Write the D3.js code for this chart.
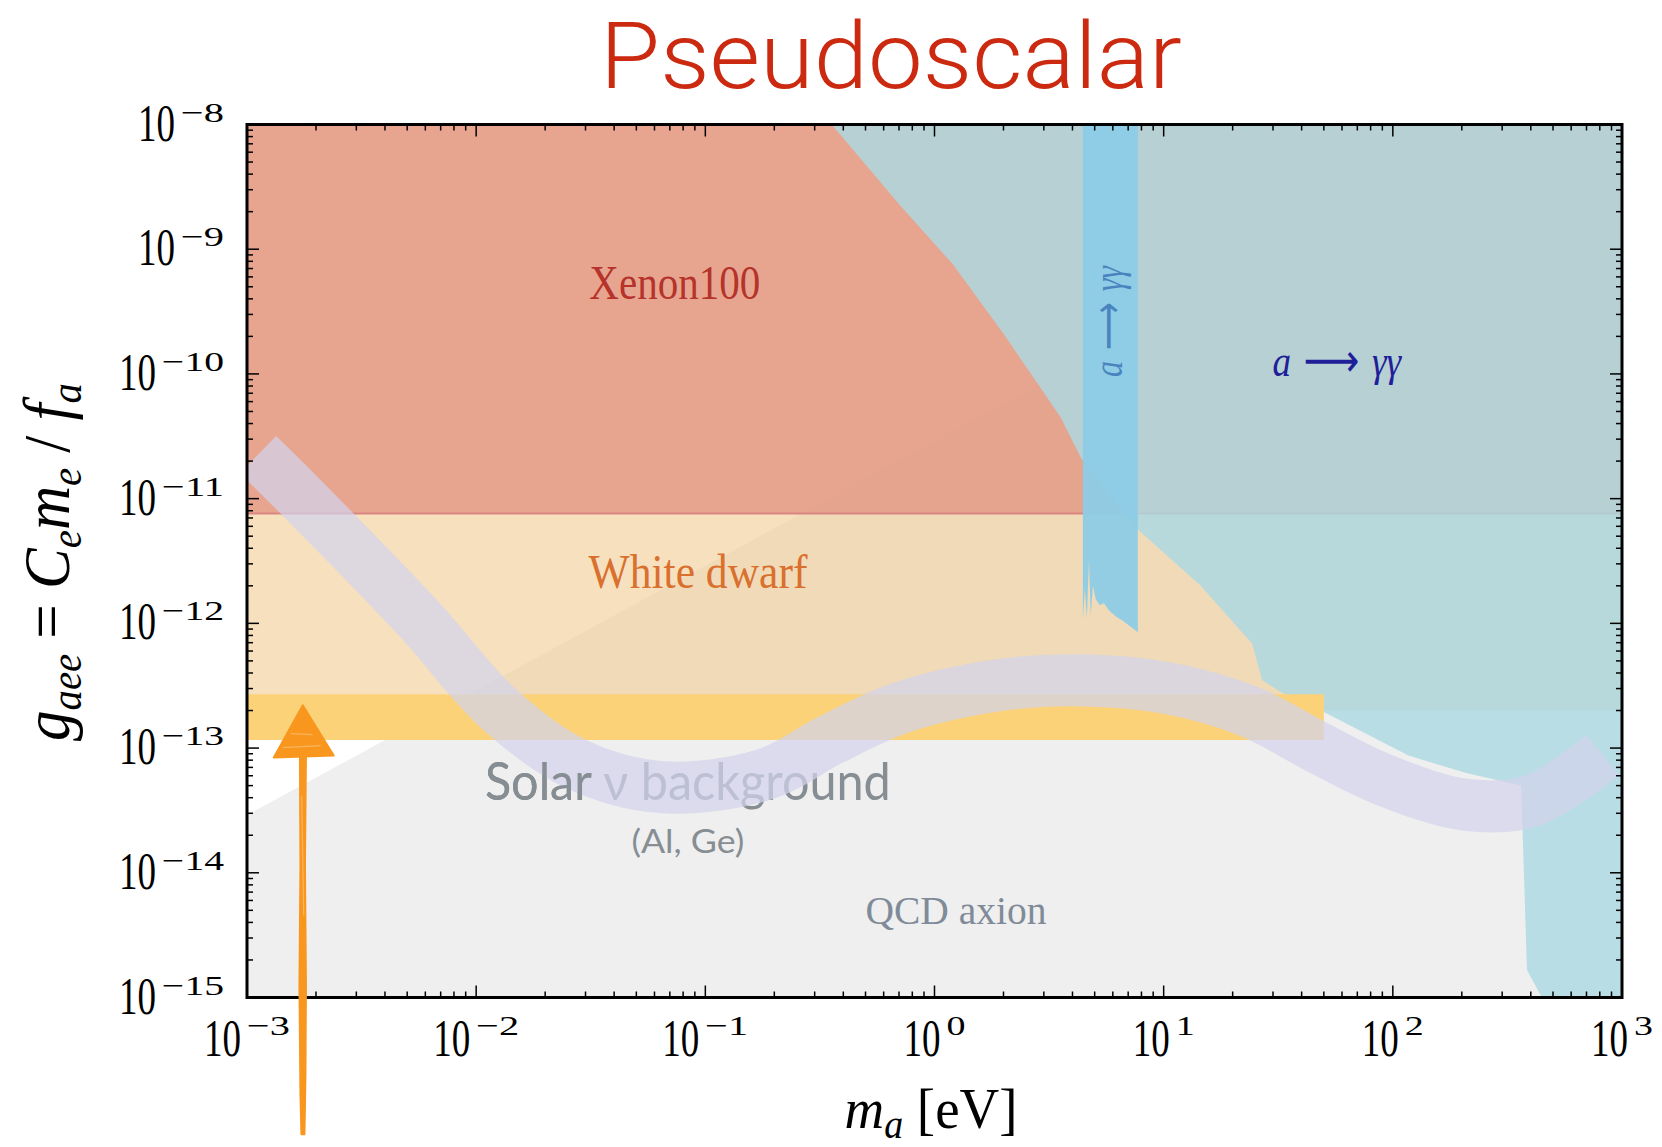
<!DOCTYPE html>
<html>
<head>
<meta charset="utf-8">
<script src="https://cdn.jsdelivr.net/npm/d3@7"></script>
<style>
  body { margin: 0; background: #fff; }
</style>
</head>
<body>
<svg id="chart"></svg>
<script>
// --- DATA ---
const massTicks = [1e-3, 1e-2, 1e-1, 1e0, 1e1, 1e2, 1e3];
const massTickExp = ["−3", "−2", "−1", "0", "1", "2", "3"];
const couplingTicks = [1e-8, 1e-9, 1e-10, 1e-11, 1e-12, 1e-13, 1e-14, 1e-15];
const couplingTickExp = ["−8", "−9", "−10", "−11", "−12", "−13", "−14", "−15"];

// Xenon100 limit (excluded above)
const xenonM = [1e-3, 1e3];
const xenonG = [7.6e-12, 7.6e-12];

// White dwarf cooling limit (excluded above)
const whiteDwarfM = [1e-3, 1e3];
const whiteDwarfG = [2.0e-13, 2.0e-13];

// white dwarf hint band
const hintM = [1e-3, 50];
const hintLowG = [1.16e-13, 1.16e-13];
const hintHighG = [2.7e-13, 2.7e-13];

// QCD axion band (below the line)
const qcdM = [1e-3, 347, 1e3];
const qcdG = [2.9e-14, 1e-8, 1e-8];

// a -> gamma gamma exclusion boundary
const photonM = [0.356, 0.708, 1.20, 2.0, 3.55, 4.37, 7.76, 14.5, 24.3, 26.9, 33.1, 51.3, 117, 209, 363, 385, 447];
const photonG = [1e-8, 2.24e-9, 7.6e-10, 2.1e-10, 4.5e-11, 2.1e-11, 5.6e-12, 2.0e-12, 6.9e-13, 3.5e-13, 2.75e-13, 1.9e-13, 8.7e-14, 6.3e-14, 5.0e-14, 1.66e-15, 1e-15];

// a -> gamma gamma vertical strip, lower edge
const stripM = [4.44, 4.53, 4.62, 4.72, 4.81, 4.91, 5.06, 5.27, 5.48, 5.82, 6.25, 6.64, 7.13, 7.48, 7.71];
const stripG = [1.07e-12, 1.9e-12, 1.1e-12, 3.2e-12, 1.15e-12, 2.0e-12, 1.55e-12, 1.4e-12, 1.45e-12, 1.25e-12, 1.12e-12, 1.05e-12, 9.5e-13, 8.9e-13, 8.5e-13];

// solar neutrino background band, centre line
const solarM = [1.117e-3, 1.70e-3, 5.69e-3, 1.245e-2, 2.67e-2, 6.47e-2, 0.184, 0.350, 0.706, 1.93, 4.10, 10.3, 23.8, 46.6, 90.4, 210, 408, 824];
const solarG = [2.25e-11, 1.05e-11, 1.06e-12, 2.09e-13, 7.6e-14, 4.86e-14, 6.2e-14, 1.16e-13, 2.09e-13, 3.2e-13, 3.5e-13, 3.03e-13, 1.95e-13, 1.02e-13, 5.6e-14, 3.5e-14, 3.8e-14, 8.8e-14];

// --- SETUP ---
const width = 1662, height = 1147;
const plot = { left: 247, right: 1622, top: 124.5, bottom: 997.5 };

const svg = d3.select("#chart")
    .attr("width", width)
    .attr("height", height)
    .style("display", "block");

svg.append("rect").attr("width", width).attr("height", height).attr("fill", "#fff");

const x = d3.scaleLog().domain([1e-3, 1e3]).range([plot.left, plot.right]);
const y = d3.scaleLog().domain([1e-15, 1e-8]).range([plot.bottom, plot.top]);

const defs = svg.append("defs");
defs.append("clipPath").attr("id", "plot-clip")
    .append("rect")
    .attr("x", plot.left).attr("y", plot.top)
    .attr("width", plot.right - plot.left).attr("height", plot.bottom - plot.top);
// left part of the solar label ("Solar"), which stays above the band
defs.append("clipPath").attr("id", "solar-clip")
    .append("rect")
    .attr("x", plot.left).attr("y", plot.top)
    .attr("width", x(0.032) - plot.left).attr("height", plot.bottom - plot.top);

const layer = svg.append("g").attr("clip-path", "url(#plot-clip)");

const serif = "'Liberation Serif', 'DejaVu Serif', serif";
const sans = "Lato, 'Open Sans', 'Noto Sans', sans-serif";

// fills up to the top of the axes / down to the bottom
const areaUp = d3.area().x(d => x(d[0])).y0(d => y(d[1])).y1(y(1e-8));
const areaDown = d3.area().x(d => x(d[0])).y0(d => y(d[1])).y1(y(1e-15));
const line = d3.line().x(d => x(d[0])).y(d => y(d[1]));

// --- REGIONS ---
// QCD axion
layer.append("path")
    .attr("d", areaDown(d3.zip(qcdM, qcdG)))
    .attr("fill", "#efefef");

// White dwarf
layer.append("path")
    .attr("d", areaUp(d3.zip(whiteDwarfM, whiteDwarfG)))
    .attr("fill", "rgb(242,203,147)")
    .attr("fill-opacity", 0.6);

// Xenon100
layer.append("path")
    .attr("d", areaUp(d3.zip(xenonM, xenonG)))
    .attr("fill", "rgb(226,150,131)")
    .attr("fill-opacity", 0.8);
layer.append("path")
    .attr("d", line(d3.zip(xenonM, xenonG)))
    .attr("fill", "none")
    .attr("stroke", "#d98582")
    .attr("stroke-width", 2);

// a -> gamma gamma (big region)
const photonPts = d3.zip(photonM, photonG).concat([[1e3, 1e-15], [1e3, 1e-8]]);
layer.append("path")
    .attr("d", line(photonPts) + "Z")
    .attr("fill", "rgb(172,216,226)")
    .attr("fill-opacity", 0.83);

// a -> gamma gamma (vertical strip)
const stripPts = [[stripM[0], 1e-8]].concat(d3.zip(stripM, stripG), [[stripM[stripM.length - 1], 1e-8]]);
layer.append("path")
    .attr("d", line(stripPts) + "Z")
    .attr("fill", "rgb(140,204,230)")
    .attr("fill-opacity", 0.95);

// hint band
layer.append("path")
    .attr("d", d3.area().x(d => x(d[0])).y0(d => y(d[1])).y1(d => y(d[2]))(d3.zip(hintM, hintLowG, hintHighG)))
    .attr("fill", "#fbd278");

// --- TEXT HELPER ---
function label(parent, px, py, opts, build) {
    const g = parent.append("g")
        .attr("transform", `translate(${px},${py})` + (opts.rotate ? ` rotate(${opts.rotate})` : ""));
    const t = g.append("text")
        .attr("text-anchor", opts.anchor || "middle")
        .attr("font-family", opts.family || serif)
        .attr("font-size", opts.size)
        .attr("font-weight", opts.weight || "normal")
        .attr("font-style", opts.italic ? "italic" : "normal")
        .attr("fill", opts.color || "#000");
    if (typeof build === "string") t.text(build); else build(t);
    if (opts.width) {
        const w = t.node().getBBox().width;
        if (w > 0) t.attr("transform", `scale(${opts.width / w},1)`);
    }
    return g;
}

// Solar background text sits under the band
const solarOpts = { family: sans, size: 52, color: "#868e93", width: 406 };
label(layer, x(0.0839), y(3.83e-14), solarOpts, "Solar ν background");
label(layer, x(0.0839), y(1.44e-14), { family: sans, size: 32, color: "#868e93", width: 113 }, "(Al, Ge)");

// solar neutrino band
layer.append("path")
    .attr("d", line.curve(d3.curveCatmullRom.alpha(0.5))(d3.zip(solarM, solarG)))
    .attr("fill", "none")
    .attr("stroke", "rgb(210,210,236)")
    .attr("stroke-opacity", 0.72)
    .attr("stroke-width", 52)
    .attr("stroke-linecap", "butt");
line.curve(d3.curveLinear);

// "Solar" itself is drawn over the band
label(layer.append("g").attr("clip-path", "url(#solar-clip)"), x(0.0839), y(3.83e-14), solarOpts, "Solar ν background");

// region labels
label(layer, x(0.0736), y(4.02e-10), { size: 48, color: "#b5332b", width: 171 }, "Xenon100");
label(layer, x(0.0929), y(1.92e-12), { size: 48, color: "#d9702e", width: 219 }, "White dwarf");
label(layer, x(1.24), y(3.87e-15), { size: 40, color: "#7f8b98", width: 181 }, "QCD axion");

function gammaLabel(t) {
    t.append("tspan").attr("font-style", "italic").text("a");
    t.append("tspan").attr("font-family", "'DejaVu Sans', sans-serif").attr("font-size", "1.05em").text(" ⟶ ");
    t.append("tspan").attr("font-style", "italic").text("γγ");
}
label(layer, x(57.0), y(9.68e-11), { size: 44, color: "#1f1f99", width: 130 }, gammaLabel);
label(layer, x(6.58), y(2.63e-10), { size: 40, color: "#4a84bf", width: 112, rotate: -90 }, gammaLabel);

// --- AXES FRAME AND TICKS ---
const axes = svg.append("g");
const majorLen = 12, minorLen = 6;
const minorM = [], minorG = [];
for (let k = -3; k < 3; k++) for (let j = 2; j <= 9; j++) minorM.push(j * Math.pow(10, k));
for (let k = -15; k < -8; k++) for (let j = 2; j <= 9; j++) minorG.push(j * Math.pow(10, k));

function xTicks(vals, len) {
    vals.forEach(v => {
        const px = x(v);
        axes.append("line").attr("x1", px).attr("x2", px).attr("y1", plot.bottom).attr("y2", plot.bottom - len);
        axes.append("line").attr("x1", px).attr("x2", px).attr("y1", plot.top).attr("y2", plot.top + len);
    });
}
function yTicks(vals, len) {
    vals.forEach(v => {
        const py = y(v);
        axes.append("line").attr("y1", py).attr("y2", py).attr("x1", plot.left).attr("x2", plot.left + len);
        axes.append("line").attr("y1", py).attr("y2", py).attr("x1", plot.right).attr("x2", plot.right - len);
    });
}
xTicks(massTicks, majorLen);
xTicks(minorM, minorLen);
yTicks(couplingTicks, majorLen);
yTicks(minorG, minorLen);
axes.selectAll("line").attr("stroke", "#000").attr("stroke-width", 1.5);

axes.append("rect")
    .attr("x", plot.left).attr("y", plot.top)
    .attr("width", plot.right - plot.left).attr("height", plot.bottom - plot.top)
    .attr("fill", "none").attr("stroke", "#000").attr("stroke-width", 3);

// tick labels "10^n"
const baseW = 37, minusW = 24, digitW = 19, gap = 6;
function supWidth(exp) {
    const digits = exp.replace("−", "").length;
    return (exp.startsWith("−") ? minusW : 0) + digits * digitW;
}

couplingTicks.forEach((v, i) => {
    const exp = couplingTickExp[i];
    const right = 224, py = y(v);
    const sw = supWidth(exp);
    label(axes, right, py - 3, { size: 28, anchor: "end", width: sw }, exp);
    label(axes, right - sw - gap, py + 16, { size: 52, anchor: "end", width: baseW }, "10");
});

massTicks.forEach((v, i) => {
    const exp = massTickExp[i];
    const sw = supWidth(exp);
    const total = baseW + gap + sw;
    const left = x(v) - total / 2;
    label(axes, left, 1056, { size: 52, anchor: "start", width: baseW }, "10");
    label(axes, left + baseW + gap, 1035, { size: 28, anchor: "start", width: sw }, exp);
});

// axis titles
label(svg, 931, 1128, { size: 58, width: 173 }, t => {
    t.append("tspan").attr("font-style", "italic").text("m");
    t.append("tspan").attr("font-style", "italic").attr("font-size", 40).attr("dy", 10).text("a");
    t.append("tspan").attr("dy", -10).text(" [eV]");
});

label(svg, 69, 562, { size: 66, rotate: -90, width: 358 }, t => {
    const sub = (s) => t.append("tspan").attr("font-style", "italic").attr("font-size", 44).attr("dy", 12).text(s);
    t.append("tspan").attr("font-style", "italic").text("g");
    sub("aee");
    t.append("tspan").attr("dy", -12).text(" = ");
    t.append("tspan").attr("font-style", "italic").text("C");
    sub("e");
    t.append("tspan").attr("font-style", "italic").attr("dy", -12).text("m");
    sub("e");
    t.append("tspan").attr("dy", -12).text(" / ");
    t.append("tspan").attr("font-style", "italic").text("f");
    sub("a");
});

// title
label(svg, 891, 88, { family: "Roboto, Lato, sans-serif", size: 92, weight: 300, color: "#cc2a10", width: 582 }, "Pseudoscalar");

// --- HAND-DRAWN ORANGE ARROW ---
const arrowM = 1.75e-3, arrowTipG = 2.2e-13, arrowBaseG = 8.7e-14;
const ax = x(arrowM), tipY = y(arrowTipG), baseY = y(arrowBaseG), tailY = y(1e-15) + 137;
const arrow = svg.append("g").attr("fill", "#f8961e").attr("stroke", "#f8961e").attr("stroke-linejoin", "round");
arrow.append("path")
    .attr("d", `M${ax - 3},${baseY} L${ax - 2.5},${baseY + 110} L${ax - 3.5},${baseY + 230} L${ax - 2.5},${tailY - 40} L${ax - 1.5},${tailY}
                L${ax + 2},${tailY} L${ax + 3},${tailY - 60} L${ax + 3.5},${baseY + 230} L${ax + 2.5},${baseY + 110} L${ax + 3.5},${baseY} Z`)
    .attr("stroke-width", 1.5);
arrow.append("path")
    .attr("d", `M${ax},${tipY} L${ax - 29},${baseY + 2} L${ax + 31},${baseY} Z`)
    .attr("stroke-width", 2);
arrow.append("path")
    .attr("d", `M${ax - 20},${baseY - 8} L${ax + 18},${baseY - 10} M${ax - 12},${baseY - 22} L${ax + 10},${baseY - 21} M${ax - 1},${baseY + 40} L${ax + 1},${baseY + 160}`)
    .attr("fill", "none").attr("stroke", "#fbb55c").attr("stroke-width", 1.2);
</script>
</body>
</html>
